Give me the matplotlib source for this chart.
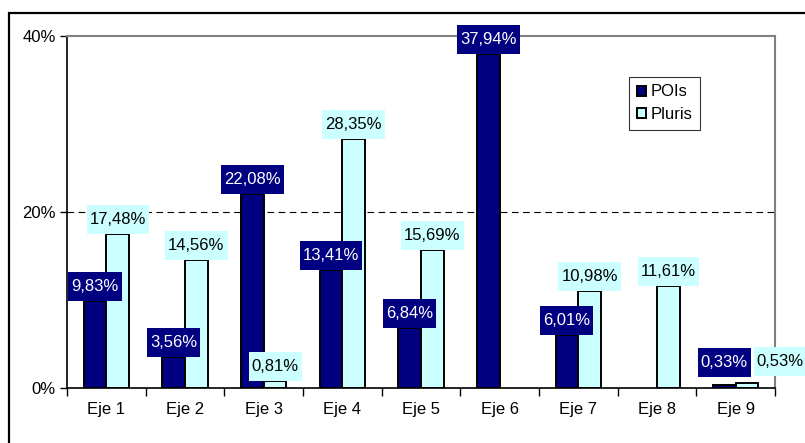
import matplotlib
matplotlib.use("Agg")
import matplotlib.pyplot as plt
import numpy as np
from matplotlib.patches import Rectangle
from matplotlib.transforms import IdentityTransform

# ── Data ──────────────────────────────────────────────────────────────────────
categories = ["Eje 1", "Eje 2", "Eje 3", "Eje 4", "Eje 5", "Eje 6", "Eje 7", "Eje 8", "Eje 9"]
pois   = [9.83, 3.56, 22.08, 13.41, 6.84, 37.94, 6.01, np.nan, 0.33]
pluris = [17.48, 14.56, 0.81, 28.35, 15.69, np.nan, 10.98, 11.61, 0.53]
yticks = [0, 20, 40]

# label nudges (points) where Excel moved labels to avoid collisions
pois_nudge   = {8: (0, 6)}
pluris_nudge = {8: (24, 5)}

# ── Style ─────────────────────────────────────────────────────────────────────
NAVY = "#000080"
CYAN = "#CCFFFF"
FS = 12
BAR_W = 0.29
PAD_X, PAD_Y = 3, 7          # label box padding in pixels
plt.rcParams["font.family"] = ["Liberation Sans", "DejaVu Sans"]

fig = plt.figure(figsize=(8.05, 4.43), dpi=100)
ax = fig.add_axes([67 / 805, 55 / 443, 708 / 805, 352 / 443])

x = np.arange(len(categories))
labels = []   # (text artist, box colour)


def fmt(v):
    return f"{v:.2f}".replace(".", ",") + "%"


def draw_series(vals, offset, face, txt_color, label, nudge):
    ax.bar(x + offset, vals, width=BAR_W, color=face, edgecolor="black",
           linewidth=1.4, label=label, zorder=3)
    for i, (xi, v) in enumerate(zip(x, vals)):
        if np.isnan(v):
            continue
        dx, dy = nudge.get(i, (0, 0))
        t = ax.annotate(fmt(v), (xi + offset, v), xytext=(dx, PAD_Y * 0.72 + dy),
                        textcoords="offset points", ha="center", va="bottom",
                        fontsize=FS, color=txt_color, zorder=6, annotation_clip=False)
        labels.append((t, face))


draw_series(pois, -BAR_W / 2, NAVY, "white", "POIs", pois_nudge)
draw_series(pluris, BAR_W / 2, CYAN, "black", "Pluris", pluris_nudge)

# axes
ax.set_xlim(-0.5, len(categories) - 0.5)
ax.set_ylim(0, 40)
ax.set_yticks(yticks)
ax.set_yticklabels([f"{t}%" for t in yticks], fontsize=FS)
ax.set_xticks(x)
ax.set_xticklabels(categories, fontsize=FS)
ax.set_xticks(np.arange(-0.5, len(categories)), minor=True)
ax.tick_params(axis="x", which="major", length=0, pad=10)
ax.tick_params(axis="x", which="minor", length=6, width=1, color="black")
ax.tick_params(axis="y", length=5, width=1, pad=3)

ax.axhline(20, color="black", linestyle=(0, (6, 4)), linewidth=0.8, zorder=1)

for side in ["top", "right"]:
    ax.spines[side].set_color("#808080")
    ax.spines[side].set_linewidth(1.5)
for side in ["left", "bottom"]:
    ax.spines[side].set_color("black")
    ax.spines[side].set_linewidth(1.2)
ax.spines["bottom"].set_zorder(4)

leg = ax.legend(loc="upper left", bbox_to_anchor=((629 - 67) / 708, (388 - 77) / 352),
                borderaxespad=0, fontsize=FS, frameon=True, fancybox=False,
                handlelength=0.55, handleheight=0.55, handletextpad=0.3,
                borderpad=0.45, labelspacing=0.45)
leg.get_frame().set_edgecolor("black")
leg.get_frame().set_linewidth(0.8)

# label boxes: asymmetric padding, drawn in pixel space just behind the text
fig.canvas.draw()
renderer = fig.canvas.get_renderer()
for t, face in labels:
    bb = t.get_window_extent(renderer)
    box = Rectangle((bb.x0 - PAD_X, bb.y0 - PAD_Y),
                    bb.width + 2 * PAD_X, bb.height + 2 * PAD_Y,
                    transform=IdentityTransform(), facecolor=face,
                    edgecolor="none", zorder=5, clip_on=False)
    ax.add_artist(box)

# outer chart border (cropped on right and bottom)
fig.patches.append(Rectangle((9 / 805, -0.1), 1.2, (443 - 13) / 443 + 0.1,
                             transform=fig.transFigure, fill=False,
                             edgecolor="black", linewidth=1.6))

fig.savefig("out.png", dpi=100)
